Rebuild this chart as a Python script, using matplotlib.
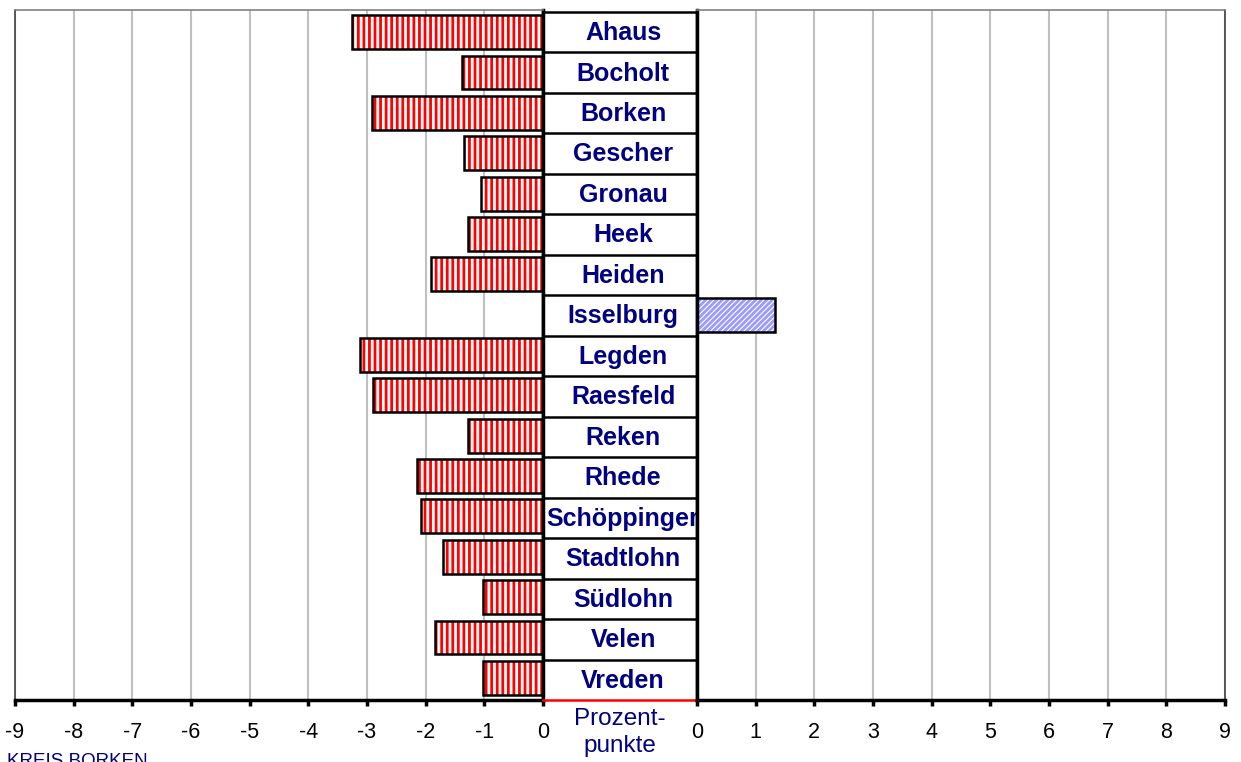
import numpy as np
import matplotlib.pyplot as plt

plt.rcParams['font.family'] = ['Liberation Sans', 'DejaVu Sans']
plt.rcParams['hatch.linewidth'] = 2.0

# Gemeinden im Kreis Borken und Veränderung in Prozentpunkten
gemeinden = ['Ahaus', 'Bocholt', 'Borken', 'Gescher', 'Gronau', 'Heek', 'Heiden',
             'Isselburg', 'Legden', 'Raesfeld', 'Reken', 'Rhede', 'Schöppinger',
             'Stadtlohn', 'Südlohn', 'Velen', 'Vreden']
werte = [-3.26, -1.38, -2.91, -1.35, -1.06, -1.28, -1.91,
         1.33, -3.12, -2.90, -1.28, -2.15, -2.08,
         -1.70, -1.02, -1.84, -1.02]
ticks_links = list(range(-9, 1))
ticks_rechts = list(range(0, 10))

navy = '#000080'
W, H = 1241, 762
fig = plt.figure(figsize=(W / 100, H / 100), dpi=100)

def px_axes(x0, x1, y0=10, y1=700):
    return fig.add_axes([x0 / W, 1 - y1 / H, (x1 - x0) / W, (y1 - y0) / H])

ax_l = px_axes(15, 543)
ax_c = px_axes(543, 697, 12, 700)
ax_r = px_axes(697, 1225)

n = len(gemeinden)
y = np.arange(n)
neg = np.array([min(v, 0) for v in werte])
pos = np.array([max(v, 0) for v in werte])

for ax, lim, ticks in [(ax_l, (-9, 0), ticks_links), (ax_r, (0, 9), ticks_rechts)]:
    ax.set_xlim(*lim)
    ax.set_ylim(n - 0.5 + 0.05, -0.5 - 0.05)
    ax.set_xticks(ticks)
    ax.set_xticklabels([str(t) for t in ticks], fontsize=15.5)
    ax.set_yticks([])
    ax.grid(axis='x', color='#c0c0c0', linewidth=1.5)
    ax.set_axisbelow(True)
    ax.tick_params(axis='x', direction='out', length=4, width=2.5, pad=12, color='black')
    ax.spines['bottom'].set_linewidth(2.5)
    ax.spines['top'].set_color('#808080')
    ax.spines['top'].set_linewidth(1.2)

ax_l.spines['left'].set_color('#404040')
ax_l.spines['left'].set_linewidth(1.2)
ax_l.spines['right'].set_linewidth(2.5)
ax_r.spines['right'].set_color('#404040')
ax_r.spines['right'].set_linewidth(1.2)
ax_r.spines['left'].set_linewidth(2.5)

# linke Balken (rot gestreift)
mask = neg < 0
ax_l.barh(y[mask], neg[mask], height=0.84, color='white', edgecolor='red',
          hatch='|||', linewidth=0, zorder=2)
ax_l.barh(y[mask], neg[mask], height=0.84, fill=False, edgecolor='black',
          linewidth=1.8, zorder=3)

# rechte Balken (blau schraffiert)
mask = pos > 0
ax_r.barh(y[mask], pos[mask], height=0.84, color='white', edgecolor='#9a9aff',
          hatch='//////', linewidth=0, zorder=2)
ax_r.barh(y[mask], pos[mask], height=0.84, fill=False, edgecolor='black',
          linewidth=1.8, zorder=3)

# mittlere Spalte mit Namen
ax_c.set_xlim(0, 1)
ax_c.set_ylim(n - 0.5, -0.5)
ax_c.set_xticks([])
ax_c.set_yticks([])
for k in range(1, n):
    ax_c.axhline(k - 0.5, color='black', linewidth=1.8)
for side in ['left', 'right']:
    ax_c.spines[side].set_linewidth(2.5)
ax_c.spines['top'].set_linewidth(1.8)
ax_c.spines['bottom'].set_color('red')
ax_c.spines['bottom'].set_linewidth(1.8)
for i, name in enumerate(gemeinden):
    ax_c.text(0.52, i + 0.02, name, ha='center', va='center', fontsize=18,
              fontweight='bold', color=navy)

ax_c.text(0.5, -0.012, 'Prozent-\npunkte', transform=ax_c.transAxes, ha='center',
          va='top', fontsize=17.5, color=navy, linespacing=1.3)

fig.text(7 / W, 1 - 753 / H, 'KREIS BORKEN', ha='left', va='top', fontsize=13.5,
         color=navy)

fig.savefig('out.png', dpi=100)
